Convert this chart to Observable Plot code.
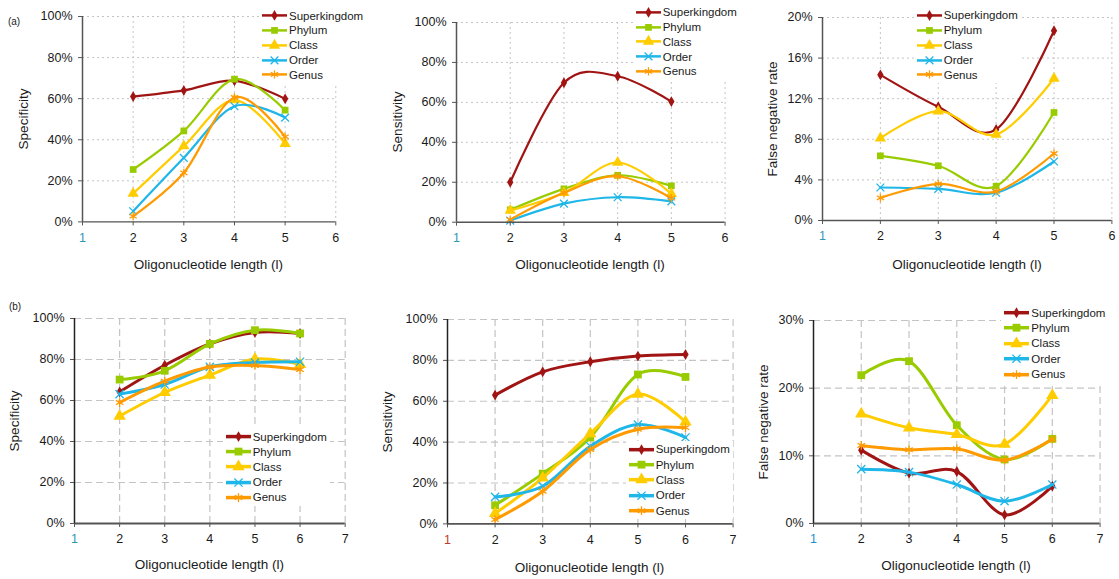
<!DOCTYPE html>
<html>
<head>
<meta charset="utf-8">
<script src="https://cdn.jsdelivr.net/npm/d3@7"></script>
<script src="https://cdn.jsdelivr.net/npm/@observablehq/plot@0.6"></script>
<style>
  html, body { margin: 0; padding: 0; background: #fff; }
  #root { position: relative; width: 1119px; height: 579px; overflow: hidden; font-family: "Liberation Sans", Arial, sans-serif; color: #1a1a1a; }
  .abs { position: absolute; }
  .title { position: absolute; white-space: nowrap; font-size: 13.5px; color: #1a1a1a; }
  .legend { position: absolute; background: #fff; padding: 1px 3px 1px 3px; font-size: 11.5px; color: #1a1a1a; }
  .legend .row { display: flex; align-items: center; }
  .legend svg { display: block; }
  .tag { position: absolute; font-size: 10px; color: #1a1a1a; transform: translate(-50%, -50%); }
</style>
</head>
<body>
<div id="root"></div>
<script>
// ---------- data ----------
const ranks = ["Superkingdom", "Phylum", "Class", "Order", "Genus"];
const lengthsA = [2, 3, 4, 5];
const lengthsB = [2, 3, 4, 5, 6];

// (a) rows: Superkingdom, Phylum, Class, Order, Genus  (values in %)
const specificityA = [
  [61.0, 64.0, 68.7, 59.9],
  [25.5, 44.3, 69.5, 54.4],
  [13.8, 36.9, 59.3, 38.1],
  [5.2, 31.2, 56.3, 50.8],
  [2.8, 23.9, 60.6, 41.4]
];
const sensitivityA = [
  [20.0, 69.8, 73.1, 60.4],
  [6.2, 16.7, 23.5, 18.2],
  [5.8, 14.7, 29.9, 14.2],
  [0.8, 9.3, 12.5, 10.4],
  [1.3, 14.7, 23.0, 12.0]
];
const fnrA = [
  [14.35, 11.2, 8.97, 18.7],
  [6.37, 5.39, 3.38, 10.64],
  [8.11, 10.77, 8.47, 13.99],
  [3.25, 3.12, 2.73, 5.81],
  [2.23, 3.61, 2.86, 6.6]
];
// (b)
const specificityB = [
  [64.2, 77.2, 87.6, 93.2, 92.7],
  [70.2, 74.5, 87.6, 94.3, 92.7],
  [52.4, 63.9, 72.4, 80.2, 77.6],
  [63.1, 67.8, 76.4, 78.5, 78.9],
  [59.0, 69.4, 76.3, 77.1, 75.1]
];
const sensitivityB = [
  [63.0, 74.4, 79.3, 82.1, 82.9],
  [9.1, 24.6, 42.3, 73.1, 71.9],
  [5.1, 22.5, 44.2, 63.5, 49.9],
  [13.2, 18.4, 38.0, 48.6, 42.3],
  [2.1, 16.0, 36.4, 46.3, 47.1]
];
const fnrB = [
  [10.84, 7.44, 7.68, 1.28, 5.52],
  [21.92, 23.99, 14.53, 9.46, 12.51],
  [16.21, 14.14, 13.15, 11.72, 18.92],
  [8.03, 7.59, 5.76, 3.30, 5.76],
  [11.53, 10.89, 11.03, 9.36, 12.46]
];

const xTicksA = [1, 2, 3, 4, 5, 6];
const xTicksB = [1, 2, 3, 4, 5, 6, 7];
const pctTicks = [0, 20, 40, 60, 80, 100];
const fnrTicksA = [0, 4, 8, 12, 16, 20];
const fnrTicksB = [0, 10, 20, 30];
const xTitle = "Oligonucleotide length (l)";

// ---------- styles ----------
const colors = ["#a01414", "#99cc00", "#ffcc00", "#1fb6e8", "#ff9a00"];
const symbols = ["diamond", "square", "triangle", "times", "asterisk"];
const filled = [true, true, true, false, false];

const root = document.getElementById("root");

function panel(cfg) {
  const ml = 70, mr = 12, mt = 8, mb = 34;
  const pw = cfg.x1 - cfg.x0, ph = cfg.yBot - cfg.yTop;
  const width = pw + ml + mr, height = ph + mt + mb;
  const top = cfg.row === 0;
  const gridStyle = top
    ? {stroke: "#c4c4c4", strokeOpacity: 1, strokeWidth: 1, strokeDasharray: "2,3"}
    : {stroke: "#c4c4c4", strokeOpacity: 1, strokeWidth: 1.2, strokeDasharray: "7,4"};
  const marks = [
    Plot.gridX(cfg.xTicks.slice(1), {...gridStyle}),
    Plot.gridY(cfg.yTicks.slice(1), {...gridStyle})
  ];
  const lw = top ? 2.2 : 3;
  cfg.values.forEach((row, i) => {
    const data = cfg.lengths.map((l, j) => ({l, v: row[j], rank: ranks[i]}));
    marks.push(Plot.line(data, {x: "l", y: "v", stroke: colors[i], strokeWidth: lw, curve: "cardinal", tension: 0}));
    const r = top ? [3.3, 3.8, 4.2, 3.6, 3.9][i] : [3.3, 4.4, 4.6, 3.8, 4.1][i];
    marks.push(Plot.dot(data, filled[i]
      ? {x: "l", y: "v", symbol: symbols[i], r, fill: colors[i], stroke: "none"}
      : {x: "l", y: "v", symbol: symbols[i], r, stroke: colors[i], strokeWidth: 1.3, fill: "none"}));
  });
  marks.push(
    Plot.axisX({ticks: cfg.xTicks, tickFormat: d => String(d), tickSize: 4, tickPadding: 7, label: null,
      stroke: "#555", fill: d => d === 1 ? cfg.oneColor : "#1a1a1a"}),
    Plot.axisY({ticks: cfg.yTicks, tickFormat: d => d + "%", tickSize: 4, tickPadding: 6, label: null,
      stroke: "#555", fill: "#1a1a1a"}),
    Plot.ruleY([cfg.yDomain[0]], {stroke: "#555", strokeWidth: top ? 1.4 : 1.8}),
    Plot.ruleX([cfg.xDomain[0]], {stroke: top ? "#555" : "#222", strokeWidth: 1.5})
  );
  const svg = Plot.plot({
    width, height,
    marginLeft: ml, marginRight: mr, marginTop: mt, marginBottom: mb,
    x: {domain: cfg.xDomain, label: null},
    y: {domain: cfg.yDomain, label: null},
    style: {fontFamily: "'Liberation Sans', Arial, sans-serif", fontSize: "12.5px", background: "transparent", overflow: "visible", color: "#1a1a1a"},
    marks
  });
  svg.classList.add("abs");
  svg.style.left = (cfg.x0 - ml) + "px";
  svg.style.top = (cfg.yTop - mt) + "px";
  root.appendChild(svg);

  // axis titles
  const xt = document.createElement("div");
  xt.className = "title";
  xt.textContent = xTitle;
  xt.style.left = ((cfg.x0 + cfg.x1) / 2) + "px";
  xt.style.top = cfg.xTitleY + "px";
  xt.style.transform = "translate(-50%, -50%)";
  root.appendChild(xt);
  const yt = document.createElement("div");
  yt.className = "title";
  yt.textContent = cfg.yTitle;
  yt.style.left = cfg.yTitleX + "px";
  yt.style.top = ((cfg.yTop + cfg.yBot) / 2) + "px";
  yt.style.transform = "translate(-50%, -50%) rotate(-90deg)";
  root.appendChild(yt);

  // legend
  const lg = document.createElement("div");
  lg.className = "legend";
  lg.style.left = (cfg.legend[0] - 3) + "px";
  lg.style.top = (cfg.legend[1] - cfg.legend[2] / 2 - 1) + "px";
  ranks.forEach((name, i) => {
    const row = document.createElement("div");
    row.className = "row";
    row.style.height = cfg.legend[2] + "px";
    const h = cfg.legend[2];
    const s = d3.create("svg").attr("width", 25).attr("height", h);
    s.append("line").attr("x1", 0).attr("x2", 25).attr("y1", h / 2).attr("y2", h / 2)
      .attr("stroke", colors[i]).attr("stroke-width", top ? 2.5 : 3.5);
    const symMap = {diamond: d3.symbolDiamond, square: d3.symbolSquare, triangle: d3.symbolTriangle, times: d3.symbolTimes, asterisk: d3.symbolAsterisk};
    const rr = top ? [3.3, 3.8, 4.2, 3.6, 3.9][i] : [3.3, 4.4, 4.6, 3.8, 4.1][i];
    const p = s.append("path").attr("transform", `translate(12.5,${h / 2})`)
      .attr("d", d3.symbol(symMap[symbols[i]], Math.PI * rr * rr)());
    if (filled[i]) p.attr("fill", colors[i]); else p.attr("fill", "none").attr("stroke", colors[i]).attr("stroke-width", 1.3);
    row.appendChild(s.node());
    const t = document.createElement("span");
    t.textContent = name;
    t.style.marginLeft = "2px";
    row.appendChild(t);
    lg.appendChild(row);
  });
  root.appendChild(lg);
}

const teal = "#2e97b5";
panel({row: 0, x0: 81.7, x1: 335, yTop: 16.3, yBot: 221.7, xDomain: [1, 6], yDomain: [0, 100], xTicks: xTicksA, yTicks: pctTicks,
  lengths: lengthsA, values: specificityA, yTitle: "Specificity", yTitleX: 23, xTitleY: 264, legend: [262, 15.7, 14.8], oneColor: teal});
panel({row: 0, x0: 455.7, x1: 724.3, yTop: 22, yBot: 221.7, xDomain: [1, 6], yDomain: [0, 100], xTicks: xTicksA, yTicks: pctTicks,
  lengths: lengthsA, values: sensitivityA, yTitle: "Sensitivity", yTitleX: 396.7, xTitleY: 264.3, legend: [635.7, 12.3, 14.75], oneColor: teal});
panel({row: 0, x0: 822.3, x1: 1111.7, yTop: 17.3, yBot: 220.3, xDomain: [1, 6], yDomain: [0, 20], xTicks: xTicksA, yTicks: fnrTicksA,
  lengths: lengthsA, values: fnrA, yTitle: "False negative rate", yTitleX: 771.7, xTitleY: 263.7, legend: [916.7, 15.3, 14.9], oneColor: teal});
panel({row: 1, x0: 74, x1: 344.7, yTop: 318.3, yBot: 523.3, xDomain: [1, 7], yDomain: [0, 100], xTicks: xTicksB, yTicks: pctTicks,
  lengths: lengthsB, values: specificityB, yTitle: "Specificity", yTitleX: 14.3, xTitleY: 564.3, legend: [225.7, 436.7, 15.15], oneColor: teal});
panel({row: 1, x0: 446.7, x1: 732.3, yTop: 319.3, yBot: 523.7, xDomain: [1, 7], yDomain: [0, 100], xTicks: xTicksB, yTicks: pctTicks,
  lengths: lengthsB, values: sensitivityB, yTitle: "Sensitivity", yTitleX: 387.3, xTitleY: 566.7, legend: [628.7, 449.3, 15.35], oneColor: "#c0392b"});
panel({row: 1, x0: 812.7, x1: 1099.3, yTop: 320, yBot: 523, xDomain: [1, 7], yDomain: [0, 30], xTicks: xTicksB, yTicks: fnrTicksB,
  lengths: lengthsB, values: fnrB, yTitle: "False negative rate", yTitleX: 762.7, xTitleY: 565, legend: [1004.3, 312.7, 15.4], oneColor: "#1e90d0"});

for (const [txt, x, y] of [["(a)", 14, 20.7], ["(b)", 15, 305.7]]) {
  const d = document.createElement("div");
  d.className = "tag";
  d.textContent = txt;
  d.style.left = x + "px";
  d.style.top = y + "px";
  root.appendChild(d);
}
</script>
</body>
</html>
